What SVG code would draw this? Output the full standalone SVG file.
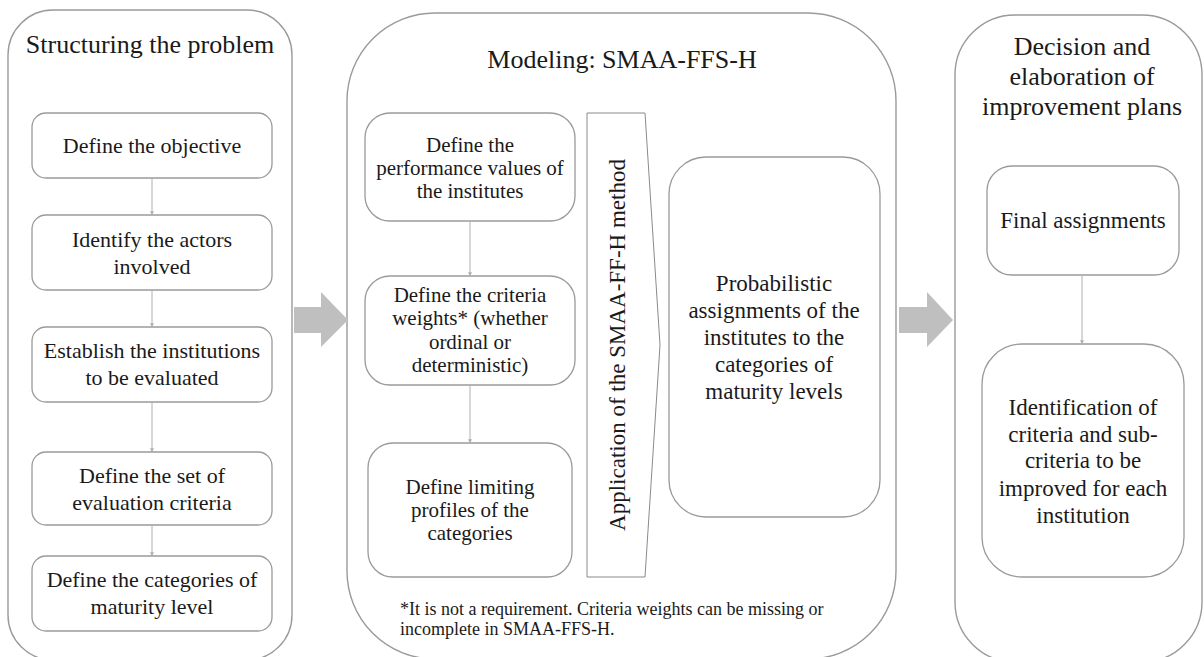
<svg xmlns="http://www.w3.org/2000/svg" width="1204" height="657" viewBox="0 0 1204 657">
<defs>
<style>
.cont{fill:#fff;stroke:#9a9a9a;stroke-width:1.4}
.box{fill:#fff;stroke:#9a9a9a;stroke-width:1.3}
.t{font-family:"Liberation Serif","Times New Roman",serif;fill:#1a1a1a;text-anchor:middle}
.title{font-size:26px}
.b22{font-size:22px}
.b21{font-size:21px}
.b23{font-size:23px}
.note{font-family:"Liberation Serif","Times New Roman",serif;fill:#1a1a1a;font-size:18px}
.con{stroke:#b0b0b0;stroke-width:1;fill:none;marker-end:url(#ah)}
.big{fill:#bfbfbf}
</style>
<marker id="ah" viewBox="0 0 6 6" refX="5.5" refY="3" markerWidth="4" markerHeight="4" orient="auto" markerUnits="userSpaceOnUse">
<path d="M0,0 L6,3 L0,6 z" fill="#b0b0b0"/>
</marker>
</defs>
<rect width="1204" height="657" fill="#fff"/>

<g id="stage-structuring">
<rect class="cont" x="8" y="10" width="284" height="650" rx="45" ry="45"/>
<text class="t title" x="150" y="53">Structuring the problem</text>
</g>
<g id="stage-modeling">
<rect class="cont" x="347" y="13" width="549" height="646" rx="88" ry="88"/>
<text class="t title" x="622" y="68">Modeling: SMAA-FFS-H</text>
<text class="note" x="400" y="615">*It is not a requirement. Criteria weights can be missing or</text>
<text class="note" x="400" y="635">incomplete in SMAA-FFS-H.</text>
</g>
<g id="stage-decision">
<rect class="cont" x="955" y="15" width="247" height="647" rx="60" ry="60"/>
<text class="t title" x="1082" y="55">Decision and</text>
<text class="t title" x="1082" y="85">elaboration of</text>
<text class="t title" x="1082" y="115">improvement plans</text>
</g>

<g id="big-arrows">
<polygon class="big" points="294,307 321,307 321,292 348,320 321,347 321,333 294,333"/>
<polygon class="big" points="899,307 927,307 927,292 953,320 927,347 927,333 899,333"/>
</g>

<g id="n-objective">
<rect class="box" x="32" y="113" width="240" height="65" rx="14"/>
<text class="t b22" x="152" y="153">Define the objective</text>
</g>
<g id="n-actors">
<rect class="box" x="32" y="215" width="240" height="75" rx="14"/>
<text class="t b22" x="152" y="247">Identify the actors</text>
<text class="t b22" x="152" y="274">involved</text>
</g>
<g id="n-institutions">
<rect class="box" x="32" y="327" width="240" height="75" rx="14"/>
<text class="t b22" x="152" y="358">Establish the institutions</text>
<text class="t b22" x="152" y="385">to be evaluated</text>
</g>
<g id="n-criteria">
<rect class="box" x="32" y="452" width="240" height="73" rx="14"/>
<text class="t b22" x="152" y="483">Define the set of</text>
<text class="t b22" x="152" y="510">evaluation criteria</text>
</g>
<g id="n-categories">
<rect class="box" x="32" y="556" width="240" height="75" rx="14"/>
<text class="t b22" x="152" y="587">Define the categories of</text>
<text class="t b22" x="152" y="614">maturity level</text>
</g>

<g id="n-performance">
<rect class="box" x="365" y="113" width="210" height="108" rx="25"/>
<text class="t b21" x="470" y="152">Define the</text>
<text class="t b21" x="470" y="175">performance values of</text>
<text class="t b21" x="470" y="198">the institutes</text>
</g>
<g id="n-weights">
<rect class="box" x="365" y="276" width="210" height="109" rx="25"/>
<text class="t b21" x="470" y="302">Define the criteria</text>
<text class="t b21" x="470" y="325">weights* (whether</text>
<text class="t b21" x="470" y="349">ordinal or</text>
<text class="t b21" x="470" y="372">deterministic)</text>
</g>
<g id="n-profiles">
<rect class="box" x="368" y="443" width="204" height="134" rx="25"/>
<text class="t b21" x="470" y="494">Define limiting</text>
<text class="t b21" x="470" y="517">profiles of the</text>
<text class="t b21" x="470" y="540">categories</text>
</g>
<g id="n-application">
<polygon fill="#fff" stroke="#8a8a8a" stroke-width="1" points="587,113 645,113 660,345 645,577 587,577"/>
<text class="t b23" transform="translate(625,345) rotate(-90)">Application of the SMAA-FF-H method</text>
</g>
<g id="n-probabilistic">
<rect class="box" x="669" y="157" width="211" height="360" rx="37"/>
<text class="t b23" x="774" y="291">Probabilistic</text>
<text class="t b23" x="774" y="318">assignments of the</text>
<text class="t b23" x="774" y="345">institutes to the</text>
<text class="t b23" x="774" y="372">categories of</text>
<text class="t b23" x="774" y="399">maturity levels</text>
</g>

<g id="n-final">
<rect class="box" x="987" y="166" width="192" height="109" rx="25"/>
<text class="t b23" x="1083" y="228">Final assignments</text>
</g>
<g id="n-identification">
<rect class="box" x="982" y="344" width="202" height="233" rx="40"/>
<text class="t b23" x="1083" y="415">Identification of</text>
<text class="t b23" x="1083" y="442">criteria and sub-</text>
<text class="t b23" x="1083" y="468">criteria to be</text>
<text class="t b23" x="1083" y="496">improved for each</text>
<text class="t b23" x="1083" y="523">institution</text>
</g>

<g id="connectors">
<line class="con" x1="152" y1="178" x2="152" y2="215"/>
<line class="con" x1="152" y1="290" x2="152" y2="327"/>
<line class="con" x1="152" y1="402" x2="152" y2="452"/>
<line class="con" x1="152" y1="525" x2="152" y2="556"/>
<line class="con" x1="470" y1="221" x2="470" y2="276"/>
<line class="con" x1="470" y1="385" x2="470" y2="443"/>
<line class="con" x1="1082" y1="275" x2="1082" y2="344"/>
</g>
</svg>
